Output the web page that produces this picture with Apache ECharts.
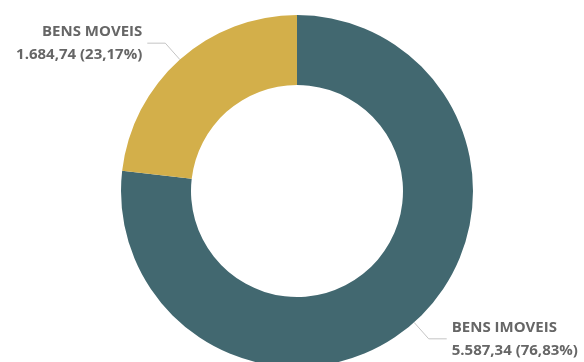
<!DOCTYPE html>
<html>
<head>
<meta charset="utf-8">
<script src="https://cdn.jsdelivr.net/npm/echarts@6/dist/echarts.min.js"></script>
<style>
  html, body { margin: 0; padding: 0; background: #ffffff; }
  #chart { width: 584px; height: 362px; }
</style>
</head>
<body>
<div id="chart"></div>
<script>
// Asset categories and their values
const categories = ['BENS IMOVEIS', 'BENS MOVEIS'];
const values = [5587.34, 1684.74];
const colors = ['#426870', '#D3AF4A'];

function fmtBR(v, decimals) {
  return v.toLocaleString('pt-BR', { minimumFractionDigits: decimals, maximumFractionDigits: decimals });
}

const chart = echarts.init(document.getElementById('chart'), null, { renderer: 'canvas' });

chart.setOption({
  animation: false,
  series: [{
    type: 'pie',
    center: [297, 191],
    radius: [106, 176],
    startAngle: 90,
    clockwise: true,
    avoidLabelOverlap: false,
    data: categories.map((c, i) => ({ name: c, value: values[i], itemStyle: { color: colors[i] } })),
    label: {
      show: true,
      position: 'outside',
      formatter: p => p.name + '\n' + fmtBR(p.value, 2) + ' (' + fmtBR(p.percent, 2) + '%)',
      fontFamily: 'Open Sans',
      fontWeight: 700,
      fontSize: 15,
      lineHeight: 23,
      color: '#666666',
      padding: [7, 0, 0, 0],
      distanceToLabelLine: 5
    },
    percentPrecision: 2,
    labelLine: {
      show: true,
      length: 22,
      length2: 18,
      lineStyle: { color: '#c4c4c4', width: 1 }
    },
    emphasis: { disabled: true }
  }]
});
</script>
</body>
</html>
